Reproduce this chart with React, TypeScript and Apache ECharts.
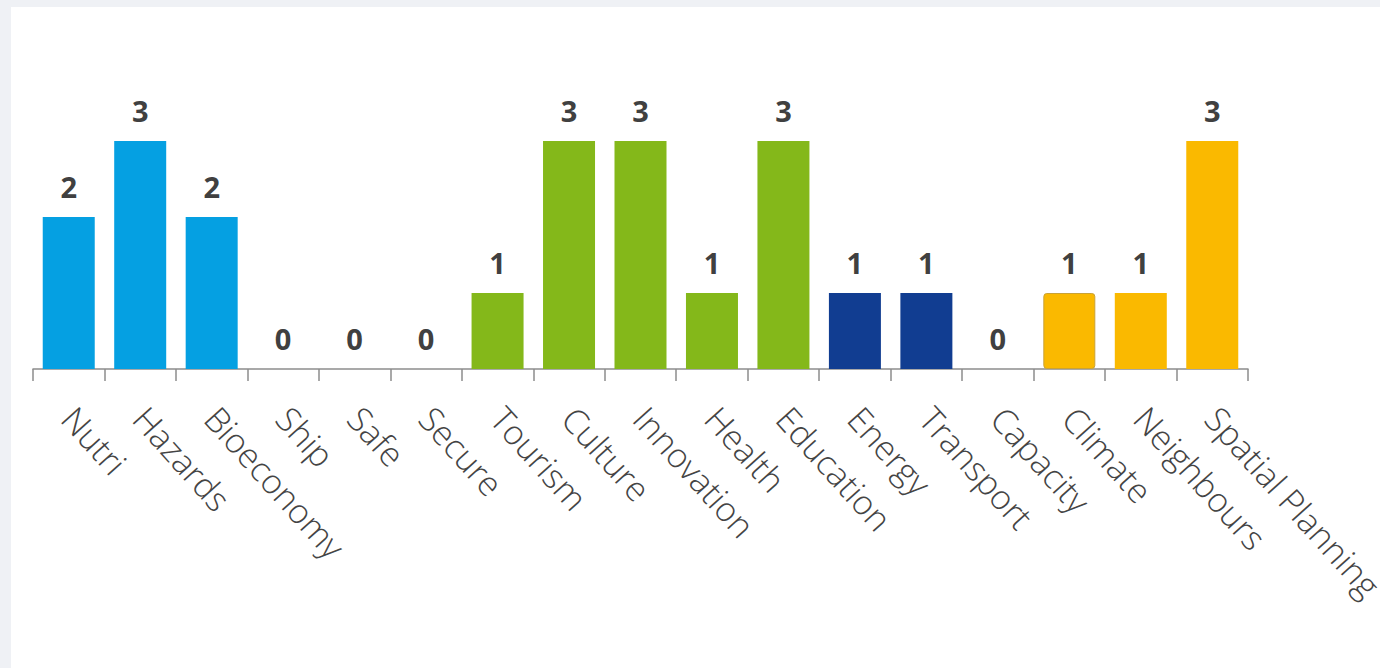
import React, { useEffect, useRef } from "react";
import * as echarts from "echarts";

const categories = [
  "Nutri", "Hazards", "Bioeconomy", "Ship", "Safe", "Secure", "Tourism", "Culture",
  "Innovation", "Health", "Education", "Energy", "Transport", "Capacity", "Climate",
  "Neighbours", "Spatial Planning",
];
const values = [2, 3, 2, 0, 0, 0, 1, 3, 3, 1, 3, 1, 1, 0, 1, 1, 3];
const groups = [0, 0, 0, 0, 0, 0, 1, 1, 1, 1, 1, 2, 2, 2, 3, 3, 3];
const groupColors = ["#05a0e2", "#84b81a", "#113d91", "#fab900"];

export default function App() {
  const ref = useRef<HTMLDivElement>(null);
  useEffect(() => {
    if (!ref.current) return;
    const chart = echarts.init(ref.current, undefined, { renderer: "svg" });
    chart.setOption({
      animation: false,
      backgroundColor: "#ffffff",
      grid: {
        left: 22,
        right: 132,
        top: 134,
        bottom: 299,
        containLabel: false,
        outerBoundsMode: "none",
      },
      xAxis: {
        type: "category",
        data: categories,
        axisLine: { lineStyle: { color: "#8c8c8c", width: 1.5 } },
        axisTick: { show: true, length: 12, lineStyle: { color: "#8c8c8c", width: 1.5 } },
        axisLabel: {
          rotate: -48,
          interval: 0,
          margin: 43,
          color: "#444444",
          fontFamily: "Open Sans",
          fontWeight: 300,
          fontSize: 34,
          hideOverlap: false,
        },
      },
      yAxis: {
        type: "value",
        min: 0,
        max: 3,
        show: false,
        splitLine: { show: false },
      },
      series: [
        {
          type: "bar",
          barWidth: 52,
          data: values.map((v, i) => ({
            value: v,
            itemStyle:
              categories[i] === "Climate"
                ? { color: groupColors[groups[i]], borderColor: "#c9a236", borderWidth: 1, borderRadius: 3 }
                : { color: groupColors[groups[i]] },
          })),
          label: {
            show: true,
            position: "top",
            distance: 16,
            color: "#404040",
            fontFamily: "Open Sans",
            fontWeight: "bold",
            fontSize: 29,
          },
        },
      ],
    });
    return () => chart.dispose();
  }, []);
  return (
    <div
      style={{
        position: "fixed",
        left: 0,
        top: 0,
        width: 1380,
        height: 668,
        background: "#eff1f5",
        overflow: "hidden",
      }}
    >
      <div
        ref={ref}
        style={{ position: "absolute", left: 11, top: 7, width: 1369, height: 661 }}
      />
    </div>
  );
}
